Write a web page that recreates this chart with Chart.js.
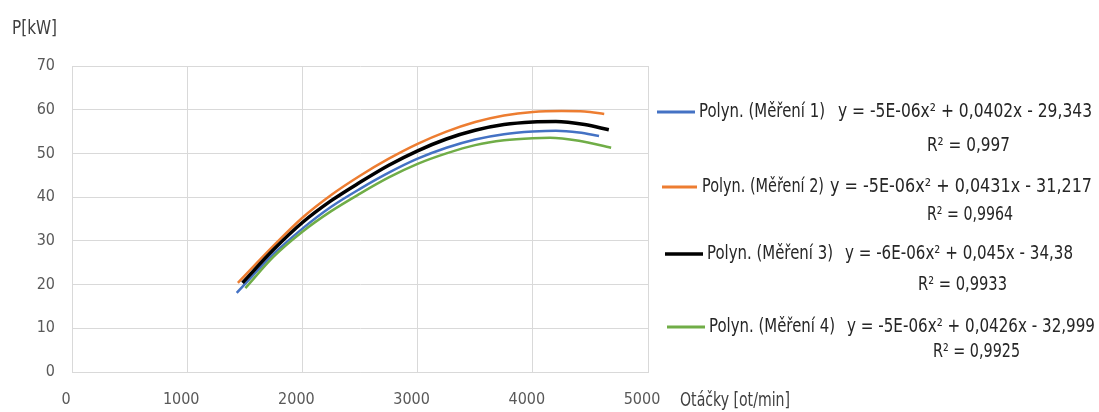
<!DOCTYPE html>
<html><head><meta charset="utf-8">
<script src="https://cdn.jsdelivr.net/npm/chart.js@4/dist/chart.umd.min.js"></script>
<style>html,body{margin:0;padding:0;background:#fff;}#wrap{position:relative;width:1099px;height:412px;}</style>
</head><body><div id="wrap"><canvas id="c" width="1099" height="412"></canvas></div>
<script>
// ---- data ----
const seriesNames = ["Polyn. (Měření 1)", "Polyn. (Měření 2)", "Polyn. (Měření 3)", "Polyn. (Měření 4)"];
const equations = ["y = -5E-06x² + 0,0402x - 29,343", "y = -5E-06x² + 0,0431x - 31,217", "y = -6E-06x² + 0,045x - 34,38", "y = -5E-06x² + 0,0426x - 32,999"];
const rSquared = ["R² = 0,997", "R² = 0,9964", "R² = 0,9933", "R² = 0,9925"];
const seriesColors = ["#4472C4", "#ED7D31", "#000000", "#70AD47"];

const rpm1 = [1430, 1750, 2000, 2250, 2500, 2750, 3000, 3250, 3500, 3750, 4000, 4200, 4400, 4575];
const power1 = [18.1, 27.0, 32.8, 37.8, 41.9, 45.6, 48.8, 51.3, 53.2, 54.4, 55.0, 55.2, 54.8, 54.0];
const rpm2 = [1440, 1750, 2000, 2250, 2500, 2750, 3000, 3250, 3500, 3750, 4000, 4250, 4450, 4620];
const power2 = [20.4, 28.9, 35.3, 40.5, 44.9, 48.8, 52.2, 55.0, 57.2, 58.7, 59.5, 59.7, 59.6, 59.0];
const rpm3 = [1480, 1750, 2000, 2250, 2500, 2750, 3000, 3250, 3500, 3750, 4000, 4200, 4450, 4660];
const power3 = [20.4, 28.0, 34.2, 39.2, 43.4, 47.3, 50.6, 53.3, 55.3, 56.6, 57.2, 57.3, 56.6, 55.4];
const rpm4 = [1505, 1750, 2000, 2250, 2500, 2750, 3000, 3250, 3500, 3750, 4000, 4150, 4400, 4680];
const power4 = [19.2, 26.4, 32.1, 36.8, 40.8, 44.5, 47.6, 50.0, 51.9, 53.0, 53.5, 53.6, 52.9, 51.3];

const xTickValues = [0, 1000, 2000, 3000, 4000, 5000];
const yTickValues = [0, 10, 20, 30, 40, 50, 60, 70];
const xAxisTitle = "Otáčky [ot/min]";
const yAxisTitle = "P[kW]";

// ---- build ----
const FONT = "'Liberation Sans Narrow', 'DejaVu Sans Condensed', 'Liberation Sans', sans-serif";
function pts(xs, ys) { return xs.map((x, i) => ({ x: x, y: ys[i] })); }
const allRpm = [rpm1, rpm2, rpm3, rpm4];
const allPower = [power1, power2, power3, power4];
const widths = [2.5, 2.5, 3.5, 2.5];
const orders = [4, 3, 2, 1];
const datasets = seriesNames.map((n, i) => ({
  label: n,
  data: pts(allRpm[i], allPower[i]),
  borderColor: seriesColors[i],
  backgroundColor: seriesColors[i],
  borderWidth: widths[i],
  pointRadius: 0,
  showLine: true,
  fill: false,
  cubicInterpolationMode: 'monotone',
  order: orders[i]
}));

function drawFit(ctx, text, x0, x1, yc, font, color) {
  ctx.save();
  ctx.font = font;
  ctx.fillStyle = color;
  ctx.textBaseline = 'middle';
  ctx.textAlign = 'left';
  const w = ctx.measureText(text).width;
  ctx.translate(x0, yc);
  ctx.scale((x1 - x0) / w, 1);
  ctx.fillText(text, 0, 0);
  ctx.restore();
}

// legend layout (pixel positions of the reference)
const legendLayout = [
  { lx0: 657, lx1: 695, ly: 112, tx0: 699, tx1: 825, ex0: 838, ex1: 1092, ey: 112, rx0: 927, rx1: 1010, ry: 146 },
  { lx0: 662, lx1: 697, ly: 187, tx0: 702, tx1: 824, ex0: 830, ex1: 1092, ey: 187, rx0: 927, rx1: 1013, ry: 215 },
  { lx0: 665, lx1: 703, ly: 254, tx0: 707, tx1: 833, ex0: 845, ex1: 1073, ey: 254, rx0: 918, rx1: 1007, ry: 285 },
  { lx0: 667, lx1: 705, ly: 327, tx0: 709, tx1: 835, ex0: 847, ex1: 1095, ey: 327, rx0: 933, rx1: 1020, ry: 352 }
];

const textPlugin = {
  id: 'texts',
  afterDraw(chart) {
    const ctx = chart.ctx;
    const f = "19px " + FONT;
    drawFit(ctx, yAxisTitle, 12, 57, 29, "20px " + FONT, '#404040');
    drawFit(ctx, xAxisTitle, 680, 790, 401, "20px " + FONT, '#404040');
    legendLayout.forEach((L, i) => {
      ctx.save();
      ctx.strokeStyle = seriesColors[i];
      ctx.lineWidth = i === 2 ? 3.5 : 3;
      ctx.beginPath();
      ctx.moveTo(L.lx0, L.ly);
      ctx.lineTo(L.lx1, L.ly);
      ctx.stroke();
      ctx.restore();
      drawFit(ctx, seriesNames[i], L.tx0, L.tx1, L.ly, f, '#262626');
      drawFit(ctx, equations[i], L.ex0, L.ex1, L.ey, f, '#262626');
      drawFit(ctx, rSquared[i], L.rx0, L.rx1, L.ry, f, '#262626');
    });
  }
};

new Chart(document.getElementById('c'), {
  type: 'scatter',
  data: { datasets: datasets },
  options: {
    responsive: false,
    animation: false,
    devicePixelRatio: 1,
    layout: { padding: { top: 66, right: 451, bottom: 0, left: 0 } },
    plugins: { legend: { display: false }, tooltip: { enabled: false }, title: { display: false } },
    scales: {
      x: {
        type: 'linear', min: 0, max: 5000,
        afterBuildTicks: s => { s.ticks = xTickValues.map(v => ({ value: v })); },
        afterFit: s => { s.height = 40; },
        ticks: { color: '#595959', font: { family: FONT, size: 16 }, padding: 18, labelOffset: -6, maxRotation: 0, autoSkip: false, callback: v => String(v) },
        grid: { color: '#d9d9d9', lineWidth: 1, drawTicks: false },
        border: { color: '#d9d9d9', width: 1 }
      },
      y: {
        type: 'linear', min: 0, max: 70,
        afterBuildTicks: s => { s.ticks = yTickValues.map(v => ({ value: v })); },
        afterFit: s => { s.width = 72; },
        ticks: { color: '#595959', font: { family: FONT, size: 16 }, padding: 17, callback: v => String(v) },
        grid: { color: '#d9d9d9', lineWidth: 1, drawTicks: false },
        border: { color: '#d9d9d9', width: 1 }
      }
    }
  },
  plugins: [textPlugin]
});
</script></body></html>
